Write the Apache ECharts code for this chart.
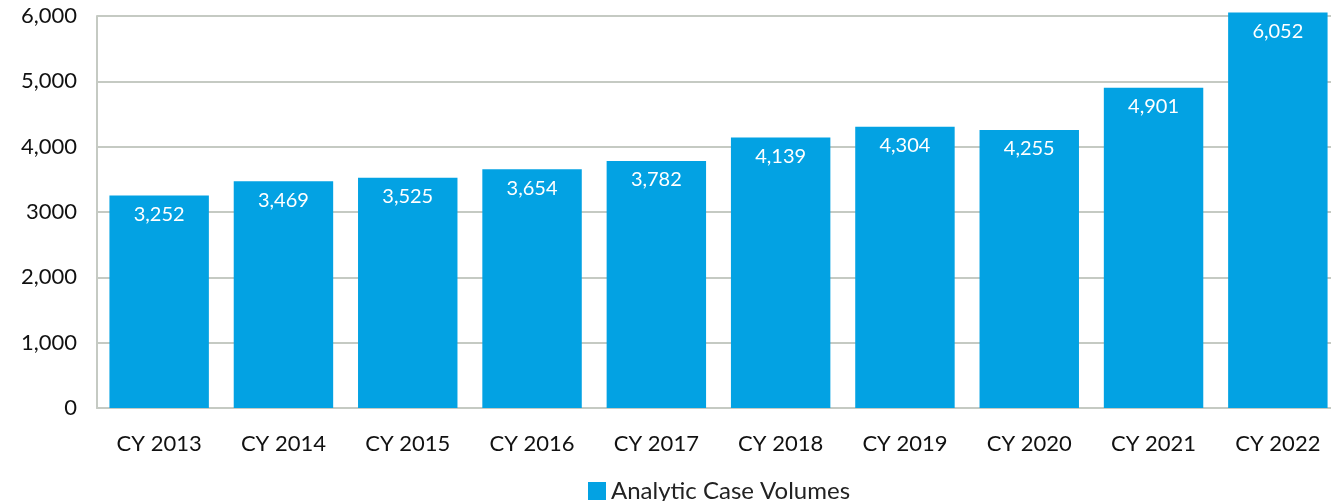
<!DOCTYPE html>
<html>
<head>
<meta charset="utf-8">
<script src="https://cdn.jsdelivr.net/npm/echarts@6/dist/echarts.min.js"></script>
<style>
  html, body { margin: 0; padding: 0; background: #fff; }
  #chart { width: 1331px; height: 501px; }
</style>
</head>
<body>
<div id="chart"></div>
<script>
// categories and values
var years = ['CY 2013', 'CY 2014', 'CY 2015', 'CY 2016', 'CY 2017', 'CY 2018', 'CY 2019', 'CY 2020', 'CY 2021', 'CY 2022'];
var caseVolumes = [3252, 3469, 3525, 3654, 3782, 4139, 4304, 4255, 4901, 6052];
var yTickLabels = { 0: '0', 1000: '1,000', 2000: '2,000', 3000: '3000', 4000: '4,000', 5000: '5,000', 6000: '6,000' };

var chart = echarts.init(document.getElementById('chart'));
var fontName = 'Lato';

chart.setOption({
  animation: false,
  textStyle: { fontFamily: fontName },
  grid: { left: 97, top: 16, width: 1243, height: 392, outerBoundsMode: 'none', containLabel: false },
  legend: {
    left: 583,
    top: 474,
    itemWidth: 18,
    itemHeight: 18,
    itemGap: 8,
    icon: 'rect',
    textStyle: { fontSize: 24, color: '#222', fontFamily: fontName },
    data: ['Analytic Case Volumes']
  },
  xAxis: {
    type: 'category',
    data: years,
    axisLine: { show: true, lineStyle: { color: '#c5cac3', width: 2 } },
    axisTick: { show: false },
    axisLabel: { fontSize: 22, color: '#111', margin: 25, fontFamily: fontName }
  },
  yAxis: {
    type: 'value',
    min: 0,
    max: 6000,
    interval: 1000,
    axisLine: { show: true, lineStyle: { color: '#c5cac3', width: 2 } },
    axisTick: { show: false },
    splitLine: { lineStyle: { color: '#c5cac3', width: 2 } },
    axisLabel: {
      fontSize: 22,
      color: '#111',
      margin: 20,
      padding: [4, 0, 0, 0],
      fontFamily: fontName,
      formatter: function (v) { return yTickLabels[v] !== undefined ? yTickLabels[v] : v; }
    }
  },
  series: [{
    name: 'Analytic Case Volumes',
    type: 'bar',
    data: caseVolumes,
    clip: false,
    barCategoryGap: '20%',
    itemStyle: { color: '#03a2e3' },
    label: {
      show: true,
      position: 'insideTop',
      distance: 9,
      color: '#fff',
      fontSize: 20,
      fontFamily: fontName,
      formatter: function (p) { return p.value.toLocaleString('en-US'); }
    }
  }]
});
</script>
</body>
</html>
